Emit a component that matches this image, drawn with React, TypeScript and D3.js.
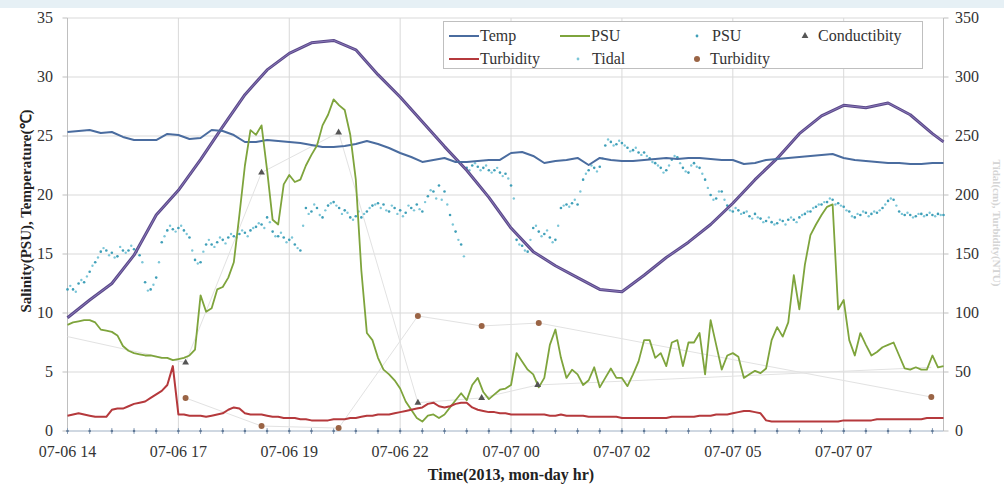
import React from 'react';
import * as d3 from 'd3';

const W = 1004;
const H = 485;

// x positions are record indices (0..158); labels every 20 records
const xLabels = ['07-06 14', '07-06 17', '07-06 19', '07-06 22', '07-07 00', '07-07 02', '07-07 05', '07-07 07'];
const labelRecords = [0, 20, 40, 60, 80, 100, 120, 140];
const leftTicks = [0, 5, 10, 15, 20, 25, 30, 35];
const rightTicks = [0, 50, 100, 150, 200, 250, 300, 350];

// PSU line (left axis), one value per record 0..158
const psuLine = [
  9.0, 9.2, 9.3, 9.4, 9.4, 9.2, 8.6, 8.5, 8.4, 8.1,
  7.2, 6.8, 6.6, 6.5, 6.4, 6.4, 6.3, 6.2, 6.2, 6.0,
  6.1, 6.2, 6.4, 6.9, 11.5, 10.1, 10.4, 12.0, 12.2, 13.0,
  14.3, 18.3, 22.5, 25.5, 25.1, 25.9, 22.1, 17.9, 17.5, 20.9,
  21.7, 21.1, 21.3, 22.5, 23.4, 24.2, 25.9, 26.8, 28.1, 27.6,
  27.2, 25.1, 21.3, 13.6, 8.3, 7.7, 6.2, 5.2, 4.8, 4.3,
  3.6, 2.5, 1.8, 1.1, 0.8, 1.3, 1.4, 1.1, 1.4, 2.0,
  2.6, 3.2, 2.6, 3.9, 4.5, 3.3, 2.7, 3.1, 3.5, 3.6,
  3.9, 6.6, 5.9, 5.2, 4.8, 3.7, 4.5, 7.3, 8.6, 6.2,
  4.5, 5.2, 4.8, 3.9, 4.3, 5.4, 3.7, 4.5, 5.3, 4.5,
  4.5, 3.8, 4.8, 5.9, 7.7, 7.7, 6.2, 6.6, 5.5, 7.5,
  7.7, 5.5, 7.5, 7.5, 8.3, 4.8, 9.4, 7.3, 5.2, 6.4,
  6.6, 6.3, 4.5, 4.8, 5.1, 4.9, 5.3, 7.7, 8.8, 8.0,
  9.2, 13.2, 10.3, 14.1, 16.6, 17.5, 18.3, 19.0, 19.2, 10.3,
  11.1, 7.7, 6.4, 8.3, 7.3, 6.4, 6.7, 7.1, 7.3, 7.5,
  6.4, 5.3, 5.2, 5.4, 5.2, 5.2, 6.4, 5.4, 5.5,
];

// Turbidity line (left axis), records 0..158
const turbidityLine = [
  1.3, 1.4, 1.5, 1.4, 1.3, 1.2, 1.2, 1.2, 1.8, 1.9,
  1.9, 2.1, 2.3, 2.4, 2.5, 2.8, 3.1, 3.4, 3.9, 5.5,
  1.4, 1.4, 1.3, 1.3, 1.3, 1.2, 1.3, 1.4, 1.5, 1.8,
  2.0, 1.9, 1.5, 1.4, 1.4, 1.4, 1.3, 1.2, 1.2, 1.1,
  1.1, 1.1, 1.0, 1.0, 0.9, 0.9, 0.9, 0.9, 1.0, 1.0,
  1.0, 1.1, 1.1, 1.2, 1.3, 1.3, 1.4, 1.4, 1.4, 1.5,
  1.6, 1.7, 1.8, 1.9, 2.0, 2.3, 2.4, 2.1, 2.0, 2.1,
  2.3, 2.4, 2.4, 2.0, 1.8, 1.7, 1.6, 1.6, 1.5, 1.5,
  1.4, 1.4, 1.4, 1.4, 1.4, 1.4, 1.4, 1.3, 1.3, 1.4,
  1.3, 1.3, 1.3, 1.3, 1.2, 1.2, 1.2, 1.2, 1.2, 1.2,
  1.1, 1.1, 1.1, 1.1, 1.1, 1.1, 1.1, 1.1, 1.1, 1.2,
  1.2, 1.2, 1.2, 1.2, 1.3, 1.3, 1.3, 1.4, 1.4, 1.4,
  1.5, 1.6, 1.7, 1.7, 1.6, 1.5, 0.9, 0.8, 0.8, 0.8,
  0.8, 0.8, 0.8, 0.8, 0.8, 0.8, 0.8, 0.8, 0.8, 0.8,
  0.9, 0.9, 0.9, 0.9, 0.9, 0.9, 1.0, 1.0, 1.0, 1.0,
  1.0, 1.0, 1.0, 1.0, 1.0, 1.1, 1.1, 1.1, 1.1,
];

// Temp line (left axis), records 0,2,4,...,158
const tempLine = [
  25.34, 25.42, 25.51, 25.25, 25.34, 24.92, 24.66, 24.66, 24.66, 25.17,
  25.08, 24.75, 24.83, 25.51, 25.42, 25.08, 24.49, 24.49, 24.66, 24.58,
  24.49, 24.41, 24.24, 24.07, 24.07, 24.15, 24.32, 24.58, 24.32, 23.98,
  23.56, 23.22, 22.80, 22.97, 23.14, 22.80, 22.80, 22.88, 22.97, 22.97,
  23.56, 23.64, 23.31, 22.71, 22.88, 22.97, 23.14, 22.54, 23.14, 22.97,
  22.88, 22.88, 22.97, 23.05, 23.14, 23.05, 23.14, 23.14, 23.05, 22.97,
  22.97, 22.63, 22.71, 22.97, 23.05, 23.14, 23.22, 23.31, 23.39, 23.47,
  23.14, 22.97, 22.88, 22.80, 22.71, 22.71, 22.63, 22.63, 22.71, 22.71,
];

// Tidal level (right axis), records 0,4,...,156 then 158
const tidalLine = [
  96, 111, 125, 149, 183, 204, 230, 258, 285, 306,
  320, 329, 331, 323, 302, 283, 262, 241, 221, 198,
  172, 152, 140, 130, 120, 118, 132, 147, 160, 175,
  193, 213, 231, 252, 267, 276, 274, 278, 268, 252,
  245,
];

// PSU scatter (left axis), records 0..158
const psuDots = [
  12.0, 12.0, 12.5, 12.6, 13.5, 14.3, 15.2, 15.3, 15.1, 14.8,
  15.3, 15.3, 15.4, 14.9, 12.6, 12.0, 13.0, 16.0, 17.0, 17.1,
  17.2, 17.0, 16.4, 14.5, 14.3, 15.8, 15.8, 16.0, 16.2, 16.4,
  16.5, 16.7, 16.8, 17.0, 17.3, 17.5, 18.1, 16.9, 16.5, 16.4,
  16.2, 15.8, 15.3, 18.9, 18.6, 18.9, 18.1, 19.1, 19.4, 18.9,
  18.7, 18.1, 18.2, 18.1, 18.6, 19.1, 19.3, 19.2, 18.6, 18.9,
  18.7, 18.5, 18.9, 19.2, 18.6, 19.9, 20.3, 20.8, 20.3, 18.3,
  16.9, 15.8, 22.3, 22.5, 22.4, 22.3, 22.1, 22.1, 21.9, 21.8,
  20.8, 16.2, 15.7, 15.2, 17.2, 16.9, 16.7, 16.4, 16.2, 18.9,
  19.2, 19.3, 19.2, 21.3, 22.1, 22.3, 22.4, 24.2, 24.5, 24.3,
  24.4, 24.0, 23.8, 23.6, 23.6, 23.1, 22.7, 22.3, 22.1, 23.0,
  23.2, 22.3, 21.9, 22.7, 22.3, 21.3, 20.0, 19.7, 20.3, 19.1,
  18.6, 18.7, 18.5, 18.2, 18.4, 18.0, 17.8, 17.7, 17.6, 17.8,
  17.9, 17.9, 18.1, 18.4, 18.6, 19.0, 19.2, 19.4, 19.6, 19.3,
  19.0, 18.6, 18.1, 18.3, 18.5, 18.4, 18.5, 18.9, 19.5, 19.6,
  18.6, 18.3, 18.3, 18.2, 18.4, 18.3, 18.3, 18.4, 18.3,
];

// Tidal scatter (left axis), records 0.5..157.5
const tidalDots = [
  12.3, 11.8, 12.8, 13.1, 14.0, 14.7, 15.5, 14.9, 14.7, 15.6,
  15.1, 15.7, 15.2, 14.3, 11.9, 12.4, 14.3, 16.5, 17.4, 16.9,
  17.4, 16.7, 15.3, 14.2, 15.2, 16.2, 15.6, 16.4, 15.9, 16.7,
  16.4, 17.0, 16.5, 17.2, 17.6, 17.2, 17.7, 16.5, 16.8, 16.0,
  16.4, 15.5, 17.4, 18.4, 19.2, 18.3, 18.7, 19.3, 19.1, 18.4,
  18.5, 17.9, 18.6, 18.4, 18.9, 19.2, 18.9, 18.7, 19.1, 18.4,
  18.2, 19.1, 18.7, 18.8, 19.4, 20.4, 19.7, 19.6, 19.2, 17.5,
  16.2, 14.8, 22.1, 22.7, 22.1, 22.5, 21.9, 22.3, 21.6, 21.4,
  19.7, 15.8, 15.3, 16.2, 17.4, 16.5, 17.0, 16.0, 17.4, 19.1,
  19.0, 19.6, 20.3, 21.8, 22.5, 22.0, 23.1, 24.7, 24.2, 24.6,
  24.2, 23.7, 24.0, 23.4, 23.3, 22.8, 22.5, 21.9, 22.5, 23.3,
  22.7, 22.0, 22.5, 22.4, 21.8, 20.6, 19.6, 20.3, 19.6, 18.7,
  18.9, 18.4, 18.6, 18.0, 18.1, 17.7, 18.1, 17.5, 17.9, 17.5,
  18.1, 17.7, 18.3, 18.6, 18.9, 19.2, 19.4, 19.7, 19.2, 19.1,
  18.7, 18.2, 18.4, 18.6, 18.2, 18.6, 18.7, 19.2, 19.7, 19.1,
  18.4, 18.5, 18.1, 18.4, 18.2, 18.5, 18.2, 18.3,
];

// Sparse samples
const condRecords = [0, 21.3, 35, 48.9, 63.2, 74.7, 84.8, 155.8];
const conductivity = [8.0, 5.8, 21.9, 25.3, 2.4, 2.8, 3.9, 5.4];
const turbRecords = [21.3, 35, 48.9, 63.2, 74.7, 85, 155.8];
const turbiditySamples = [28, 4.2, 2.5, 97.5, 89, 91.5, 28.8];

const C = {
  temp: '#4a6c9f',
  psu: '#7ea43c',
  turb: '#b5393c',
  tidalOuter: '#5b4a8a',
  tidalInner: '#8a77b8',
  psuDot: '#3f9fb8',
  tidalDot: '#7cc6d8',
  turbDot: '#9a6445',
  cond: '#555555',
  grid: '#d9d9d9',
  text: '#333333',
  faint: '#e2e2e2',
};

const FONT = "'Liberation Serif', 'Times New Roman', serif";

export default function App() {
  const x = d3.scaleLinear().domain([0, 158]).range([67.5, 943.5]);
  const yL = d3.scaleLinear().domain([0, 35]).range([431, 18]);
  const yR = d3.scaleLinear().domain([0, 350]).range([431, 18]);

  const lineL = d3.line<[number, number]>().x((d) => x(d[0])).y((d) => yL(d[1]));
  const lineR = d3.line<[number, number]>().x((d) => x(d[0])).y((d) => yR(d[1]));

  const psuPts: [number, number][] = psuLine.map((v, i) => [i, v]);
  const turbPts: [number, number][] = turbidityLine.map((v, i) => [i, v]);
  const tempPts: [number, number][] = tempLine.map((v, i) => [i * 2, v]);
  const tidalRecs = d3.range(0, 157, 4).concat([158]);
  const tidalPts: [number, number][] = tidalLine.map((v, i) => [tidalRecs[i], v]);
  const condPts: [number, number][] = conductivity.map((v, i) => [condRecords[i], v]);
  const turbSPts: [number, number][] = turbiditySamples.map((v, i) => [turbRecords[i], v]);

  const tri = d3.symbol(d3.symbolTriangle, 20)() as string;
  const minorTicks = d3.range(0, 159, 4);
  const x0 = x(0);
  const x1 = x(158);

  return (
    <svg
      width={W}
      height={H}
      style={{ position: 'absolute', left: 0, top: 0, background: '#ffffff' }}
      fontFamily={FONT}
    >
      <rect x={0} y={0} width={W} height={8} fill="#e6f0f5" />

      {/* horizontal gridlines */}
      {leftTicks.filter((t) => t > 0).map((t) => (
        <line key={'hg' + t} x1={x0} x2={x1} y1={yL(t)} y2={yL(t)} stroke={C.grid} strokeWidth={1} />
      ))}
      {/* vertical gridlines */}
      {labelRecords.filter((r) => r > 0).map((r) => (
        <line key={'vg' + r} x1={x(r)} x2={x(r)} y1={yL(35)} y2={yL(0)} stroke={C.grid} strokeWidth={1} />
      ))}

      {/* axes */}
      <line x1={x0} x2={x0} y1={yL(35)} y2={yL(0)} stroke="#bfbfbf" />
      <line x1={x1} x2={x1} y1={yL(35)} y2={yL(0)} stroke="#bfbfbf" />
      <line x1={x0} x2={x1} y1={yL(0)} y2={yL(0)} stroke="#9fb0c4" />
      {leftTicks.map((t) => (
        <line key={'lt' + t} x1={x0 - 5} x2={x0} y1={yL(t)} y2={yL(t)} stroke="#bfbfbf" />
      ))}
      {rightTicks.map((t) => (
        <line key={'rt' + t} x1={x1} x2={x1 + 5} y1={yR(t)} y2={yR(t)} stroke="#bfbfbf" />
      ))}
      {minorTicks.map((r) => (
        <g key={'mt' + r}>
          <line x1={x(r)} x2={x(r)} y1={yL(0) - 3} y2={yL(0) + 3} stroke="#8fa3bb" strokeWidth={1} />
          <circle cx={x(r)} cy={yL(0)} r={1.3} fill="#5f7896" />
        </g>
      ))}

      {/* faint connectors of sparse samples */}
      <path d={lineL(condPts) || ''} fill="none" stroke={C.faint} strokeWidth={1} />
      <path d={lineR(turbSPts) || ''} fill="none" stroke={C.faint} strokeWidth={1} />

      {/* scatter dots */}
      {tidalDots.map((v, i) => (
        <circle key={'td' + i} cx={x(i + 0.5)} cy={yL(v)} r={1.2} fill={C.tidalDot} />
      ))}
      {psuDots.map((v, i) => (
        <circle key={'pd' + i} cx={x(i)} cy={yL(v)} r={1.3} fill={C.psuDot} />
      ))}

      {/* tidal line */}
      <path d={lineR(tidalPts) || ''} fill="none" stroke={C.tidalOuter} strokeWidth={3} strokeLinejoin="round" />
      <path d={lineR(tidalPts) || ''} fill="none" stroke={C.tidalInner} strokeWidth={1} strokeLinejoin="round" />

      {/* temp, psu, turbidity lines */}
      <path d={lineL(tempPts) || ''} fill="none" stroke={C.temp} strokeWidth={2} strokeLinejoin="round" />
      <path d={lineL(psuPts) || ''} fill="none" stroke={C.psu} strokeWidth={1.8} strokeLinejoin="round" />
      <path d={lineL(turbPts) || ''} fill="none" stroke={C.turb} strokeWidth={2} strokeLinejoin="round" />

      {/* sample markers */}
      {condPts.filter((d) => d[0] > 0 && d[0] < 150).map((d, i) => (
        <path key={'cd' + i} d={tri} transform={`translate(${x(d[0])},${yL(d[1])})`} fill={C.cond} />
      ))}
      {turbSPts.map((d, i) => (
        <circle key={'ts' + i} cx={x(d[0])} cy={yR(d[1])} r={3} fill={C.turbDot} />
      ))}

      {/* tick labels */}
      {leftTicks.map((t) => (
        <text key={'ll' + t} x={53} y={yL(t) + 5} textAnchor="end" fontSize={16} fill={C.text}>{t}</text>
      ))}
      {rightTicks.map((t) => (
        <text key={'rl' + t} x={955} y={yR(t) + 5} textAnchor="start" fontSize={16} fill={C.text}>{t}</text>
      ))}
      {xLabels.map((lab, i) => (
        <text key={'xl' + i} x={x(labelRecords[i])} y={457} textAnchor="middle" fontSize={16} fill={C.text}>{lab}</text>
      ))}

      {/* axis titles */}
      <text
        transform={`translate(31,${211}) rotate(-90)`}
        textAnchor="middle"
        fontSize={15}
        fontWeight="bold"
        fill="#222"
      >
        Salinity(PSU), Temperature(℃)
      </text>
      <text x={511} y={480} textAnchor="middle" fontSize={16} fontWeight="bold" fill="#222">
        Time(2013, mon-day hr)
      </text>
      <text
        transform={`translate(993,${223}) rotate(90)`}
        textAnchor="middle"
        fontSize={11}
        fontWeight="bold"
        fill="#d4d4d4"
      >
        Tidal(cm), Turbidity(NTU)
      </text>

      {/* legend */}
      <g>
        <rect x={443.5} y={21.5} width={479} height={47} fill="#ffffff" stroke="#bfbfbf" />
        <line x1={449} x2={479} y1={36} y2={36} stroke={C.temp} strokeWidth={2} />
        <text x={480} y={41} fontSize={16} fill={C.text}>Temp</text>
        <line x1={560} x2={590} y1={36} y2={36} stroke={C.psu} strokeWidth={2} />
        <text x={591} y={41} fontSize={16} fill={C.text}>PSU</text>
        <circle cx={697} cy={36} r={1.4} fill={C.psuDot} />
        <text x={712} y={41} fontSize={16} fill={C.text}>PSU</text>
        <path d={tri} transform="translate(805,36)" fill={C.cond} />
        <text x={818} y={41} fontSize={16} fill={C.text}>Conductibity</text>

        <line x1={449} x2={479} y1={59} y2={59} stroke={C.turb} strokeWidth={2} />
        <text x={480} y={64} fontSize={16} fill={C.text}>Turbidity</text>
        <circle cx={578} cy={59} r={1.4} fill={C.tidalDot} />
        <text x={592} y={64} fontSize={16} fill={C.text}>Tidal</text>
        <circle cx={697} cy={59} r={3} fill={C.turbDot} />
        <text x={710} y={64} fontSize={16} fill={C.text}>Turbidity</text>
      </g>
    </svg>
  );
}
